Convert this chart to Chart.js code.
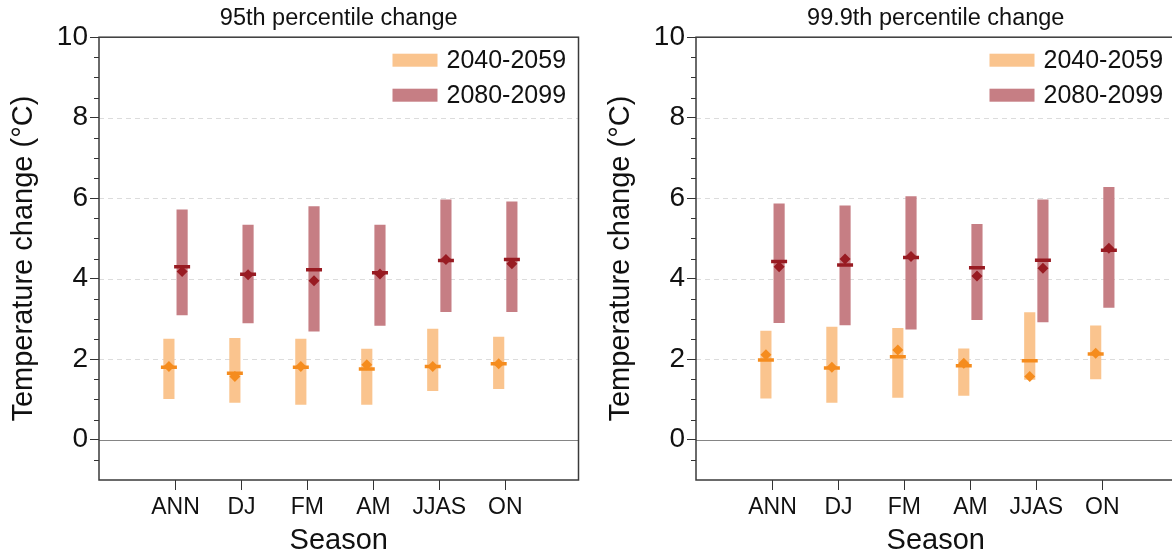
<!DOCTYPE html>
<html>
<head>
<meta charset="utf-8">
<script src="https://cdn.jsdelivr.net/npm/chart.js@4.4.1/dist/chart.umd.min.js"></script>
<style>
html, body { margin: 0; padding: 0; background: #fff; overflow: hidden; width: 1172px; height: 558px; position: relative; }
canvas { position: absolute; top: 0; }
#c95 { left: 0; }
#c999 { left: 597px; }
</style>
</head>
<body>
<canvas id="c95" width="590" height="558"></canvas>
<canvas id="c999" width="590" height="558"></canvas>
<script>
const seasons = ['ANN', 'DJ', 'FM', 'AM', 'JJAS', 'ON'];
const periods = ['2040-2059', '2080-2099'];
const yTicks = [0, 2, 4, 6, 8, 10];

// 95th percentile change: bar low/high, median line, diamond marker
const p95Low2040  = [1.02, 0.93, 0.88, 0.88, 1.22, 1.27];
const p95High2040 = [2.50, 2.52, 2.50, 2.25, 2.75, 2.55];
const p95Med2040  = [1.80, 1.65, 1.80, 1.76, 1.82, 1.89];
const p95Dot2040  = [1.82, 1.57, 1.82, 1.86, 1.82, 1.89];
const p95Low2080  = [3.10, 2.90, 2.70, 2.84, 3.18, 3.18];
const p95High2080 = [5.71, 5.33, 5.79, 5.33, 5.96, 5.91];
const p95Med2080  = [4.30, 4.11, 4.22, 4.15, 4.45, 4.48];
const p95Dot2080  = [4.18, 4.10, 3.95, 4.12, 4.48, 4.37];

// 99.9th percentile change
const p999Low2040  = [1.03, 0.93, 1.05, 1.10, 1.50, 1.51];
const p999High2040 = [2.70, 2.80, 2.77, 2.26, 3.16, 2.83];
const p999Med2040  = [1.98, 1.78, 2.06, 1.84, 1.96, 2.13];
const p999Dot2040  = [2.11, 1.80, 2.23, 1.90, 1.57, 2.15];
const p999Low2080  = [2.91, 2.85, 2.75, 2.98, 2.93, 3.29];
const p999High2080 = [5.86, 5.81, 6.04, 5.35, 5.96, 6.27];
const p999Med2080  = [4.43, 4.34, 4.53, 4.27, 4.46, 4.71];
const p999Dot2080  = [4.30, 4.49, 4.55, 4.07, 4.26, 4.76];

const barColors = ['#FAC48E', '#C67E84'];
const markColors = ['#F58C1E', '#981B22'];
const shift = [-0.1, 0.1];

Chart.defaults.font.family = '"Liberation Sans", Arial, sans-serif';
Chart.defaults.color = '#111';

const deco = {
    id: 'deco',
    beforeDatasetsDraw(chart) {
        const ctx = chart.ctx, ca = chart.chartArea, y = chart.scales.y;
        ctx.save();
        ctx.lineWidth = 1;
        [2, 4, 6, 8].forEach(v => {
            const py = Math.round(y.getPixelForValue(v)) + 0.5;
            ctx.strokeStyle = '#dcdcdc';
            ctx.setLineDash([5, 4]);
            ctx.beginPath(); ctx.moveTo(ca.left, py); ctx.lineTo(ca.right, py); ctx.stroke();
        });
        ctx.setLineDash([]);
        ctx.strokeStyle = '#858585';
        const p0 = Math.round(y.getPixelForValue(0)) + 0.5;
        ctx.beginPath(); ctx.moveTo(ca.left, p0); ctx.lineTo(ca.right, p0); ctx.stroke();
        ctx.restore();
    },
    afterDraw(chart) {
        const ctx = chart.ctx, ca = chart.chartArea, y = chart.scales.y;
        ctx.save();
        // minor ticks
        ctx.strokeStyle = '#333'; ctx.lineWidth = 1;
        for (let v = y.min + 0.5; v < y.max; v += 0.5) {
            if (yTicks.includes(v)) continue;
            const py = Math.round(y.getPixelForValue(v)) + 0.5;
            ctx.beginPath(); ctx.moveTo(ca.left - 5, py); ctx.lineTo(ca.left, py); ctx.stroke();
        }
        // frame
        ctx.strokeStyle = '#3a3a3a'; ctx.lineWidth = 1.5;
        ctx.strokeRect(ca.left, ca.top, ca.right - ca.left, ca.bottom - ca.top);
        // legend
        ctx.font = '25px "Liberation Sans", Arial, sans-serif';
        ctx.textAlign = 'left'; ctx.textBaseline = 'middle';
        chart.data.datasets.filter(d => d.type === 'bar').forEach((d, k) => {
            const yc = ca.top + 23 + k * 35;
            ctx.fillStyle = d.backgroundColor;
            ctx.fillRect(ca.right - 186, yc - 6.5, 45, 13);
            ctx.fillStyle = '#111';
            ctx.fillText(d.label, ca.right - 132, yc + 1);
        });
        ctx.restore();
    }
};

function makePanel(id, title, groups) {
    const datasets = [];
    groups.forEach((g, k) => {
        const xs = seasons.map((_, i) => i + shift[k]);
        datasets.push({
            type: 'bar', label: periods[k],
            data: xs.map((x, i) => ({ x: x, y: [g.low[i], g.high[i]] })),
            backgroundColor: barColors[k], borderWidth: 0,
            barThickness: 10.5, grouped: false, order: 3
        });
        datasets.push({
            type: 'line', label: periods[k] + ' median',
            data: xs.map((x, i) => ({ x: x, y: g.med[i] })),
            showLine: false, pointStyle: 'line', pointRadius: 8,
            pointBorderColor: markColors[k], pointBorderWidth: 3.5, order: 2
        });
        datasets.push({
            type: 'line', label: periods[k] + ' mean',
            data: xs.map((x, i) => ({ x: x, y: g.dot[i] })),
            showLine: false, pointStyle: 'rectRot', pointRadius: 5.5,
            pointBackgroundColor: markColors[k], pointBorderWidth: 0, order: 1
        });
    });

    new Chart(document.getElementById(id), {
        type: 'bar',
        data: { datasets },
        options: {
            responsive: false,
            animation: false,
            layout: { padding: { left: 0, right: 7, top: 0, bottom: 0 } },
            plugins: {
                legend: { display: false },
                tooltip: { enabled: false },
                title: {
                    display: true, text: title, color: '#111', fullSize: false,
                    font: { size: 23.5, weight: 'normal' },
                    padding: { top: 4, bottom: 5 }
                }
            },
            scales: {
                x: {
                    type: 'linear', min: -1.16, max: 6.11, offset: false,
                    afterBuildTicks: s => { s.ticks = seasons.map((_, i) => ({ value: i })); },
                    afterFit: s => { s.height = 78; },
                    grid: { drawOnChartArea: false, offset: false, tickLength: 10, tickColor: '#333' },
                    border: { display: false },
                    ticks: { font: { size: 23 }, color: '#111', padding: 4, maxRotation: 0, autoSkip: false, callback: v => seasons[v] },
                    title: { display: true, text: 'Season', font: { size: 29 }, color: '#111', padding: { top: 0, bottom: 0 } }
                },
                y: {
                    min: -1, max: 10,
                    afterBuildTicks: s => { s.ticks = yTicks.map(v => ({ value: v })); },
                    afterFit: s => { s.width = 99; },
                    grid: { drawOnChartArea: false, tickLength: 9, tickColor: '#333' },
                    border: { display: false },
                    ticks: { font: { size: 28 }, color: '#111', padding: 2 },
                    title: { display: true, text: 'Temperature change (°C)', font: { size: 29 }, color: '#111', padding: { top: 7, bottom: 0 } }
                }
            }
        },
        plugins: [deco]
    });
}

makePanel('c95', '95th percentile change', [
    { low: p95Low2040, high: p95High2040, med: p95Med2040, dot: p95Dot2040 },
    { low: p95Low2080, high: p95High2080, med: p95Med2080, dot: p95Dot2080 }
]);
makePanel('c999', '99.9th percentile change', [
    { low: p999Low2040, high: p999High2040, med: p999Med2040, dot: p999Dot2040 },
    { low: p999Low2080, high: p999High2080, med: p999Med2080, dot: p999Dot2080 }
]);
</script>
</body>
</html>
